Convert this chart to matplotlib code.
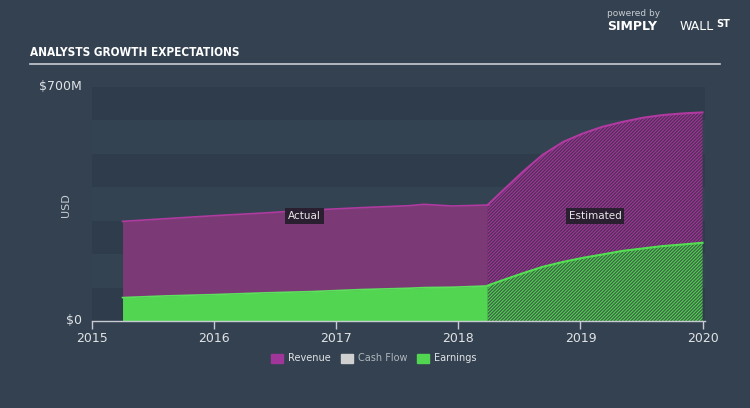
import matplotlib
matplotlib.use('Agg')
import matplotlib.pyplot as plt

# values in $M
actual_years = [2015.25, 2015.6, 2016.0, 2016.4, 2016.8, 2017.2, 2017.6, 2017.72, 2017.95, 2018.25]
actual_revenue = [298, 306, 315, 323, 332, 339, 345, 349, 344, 347]
actual_earnings = [70, 75, 79, 84, 88, 94, 98, 100, 101, 105]

est_years = [2018.24, 2018.37, 2018.53, 2018.69, 2018.86, 2019.02, 2019.18,
             2019.35, 2019.51, 2019.67, 2019.84, 2020.0]
est_revenue = [347, 392, 447, 497, 536, 561, 581, 596, 608, 616, 621, 624]
est_earnings = [106, 123, 143, 162, 177, 189, 199, 210, 217, 224, 229, 234]

legend_labels = ['Revenue', 'Cash Flow', 'Earnings']
legend_colors = ['#a0359a', '#d0d0d0', '#52d652']

bg = '#334150'
plt.rcParams['hatch.linewidth'] = 0.7

fig = plt.figure(figsize=(7.5, 4.08), dpi=100, facecolor=bg)
ax = fig.add_axes([92/750, 87/408, 613/750, 234/408])
ax.set_facecolor(bg)
ax.set_xlim(2015, 2020.02)
ax.set_ylim(0, 700)

# alternating horizontal bands
for i in range(7):
    c = '#2e3c4b' if i % 2 == 0 else '#334352'
    ax.axhspan(i*100, (i+1)*100, color=c, lw=0, zorder=0)

# actual
ax.fill_between(actual_years, actual_earnings, actual_revenue, color='#7b3a75', lw=0, zorder=2)
ax.plot(actual_years, actual_revenue, color='#b03aa0', lw=1.2, zorder=3)
ax.fill_between(actual_years, 0, actual_earnings, color='#52d652', lw=0, zorder=2)
ax.plot(actual_years, actual_earnings, color='#5ee05e', lw=1.2, zorder=3)

# estimated
ax.fill_between(est_years, est_earnings, est_revenue, facecolor='#522e59', edgecolor='#a8389f',
                hatch='//////////', lw=0, zorder=2)
ax.plot(est_years, est_revenue, color='#b03aa0', lw=1.5, zorder=3)
ax.fill_between(est_years, 0, est_earnings, facecolor='#3a6843', edgecolor='#58d858',
                hatch='//////////', lw=0, zorder=2)
ax.plot(est_years, est_earnings, color='#52e052', lw=1.5, zorder=3)

for s in ['top', 'right', 'left']:
    ax.spines[s].set_visible(False)
ax.spines['bottom'].set_color('#c8ccd2')
ax.spines['bottom'].set_linewidth(1)
ax.set_xticks([2015, 2016, 2017, 2018, 2019, 2020])
ax.tick_params(axis='x', colors='#c8ccd2', length=6, width=1, labelsize=9, labelcolor='#e0e3e6', pad=2)
ax.set_yticks([])

fig.text(82/750, 1 - 86/408, '$700M', color='#e0e3e6', fontsize=9, ha='right', va='center')
fig.text(82/750, 1 - 320/408, '$0', color='#e0e3e6', fontsize=9, ha='right', va='center')
fig.text(66/750, 1 - 205/408, 'USD', color='#c8ccd2', fontsize=8, rotation=90, ha='center', va='center')

box = dict(boxstyle='square,pad=0.25', fc='#2a1f30', ec='none')
ax.text(2016.74, 314, 'Actual', color='#e8e8e8', fontsize=7.5, ha='center', va='center', bbox=box, zorder=5)
ax.text(2019.12, 314, 'Estimated', color='#e8e8e8', fontsize=7.5, ha='center', va='center', bbox=box, zorder=5)

# title and rule
fig.text(30/750, 1 - 53/408, 'ANALYSTS GROWTH EXPECTATIONS', color='white', fontsize=8.5,
         fontweight='bold', fontstretch='condensed', ha='left', va='center', family='DejaVu Sans')
fig.add_artist(plt.Line2D([30/750, 720/750], [1 - 64/408, 1 - 64/408], color='#c8ccd2', lw=1.2))

# logo text
fig.text(607/750, 1 - 14/408, 'powered by', color='#c8ccd2', fontsize=6.5, ha='left', va='center')
fig.text(607/750, 1 - 26/408, 'SIMPLY', color='white', fontsize=9, fontweight='bold', ha='left', va='center')
fig.text(680/750, 1 - 26/408, 'WALL', color='white', fontsize=9, ha='left', va='center')
fig.text(716/750, 1 - 24/408, 'ST', color='white', fontsize=7, fontweight='bold', ha='left', va='center')

# legend
lx = [271, 341, 417]
for x, lab, col in zip(lx, legend_labels, legend_colors):
    fig.patches.append(plt.Rectangle((x/750, 1 - 363/408), 12/750, 9/408, transform=fig.transFigure,
                                     color=col, figure=fig))
    fig.text((x + 17)/750, 1 - 358/408, lab, color='#e0e3e6' if lab != 'Cash Flow' else '#b0b6bd',
             fontsize=7, ha='left', va='center')

fig.savefig('out.png', dpi=100, facecolor=bg)
